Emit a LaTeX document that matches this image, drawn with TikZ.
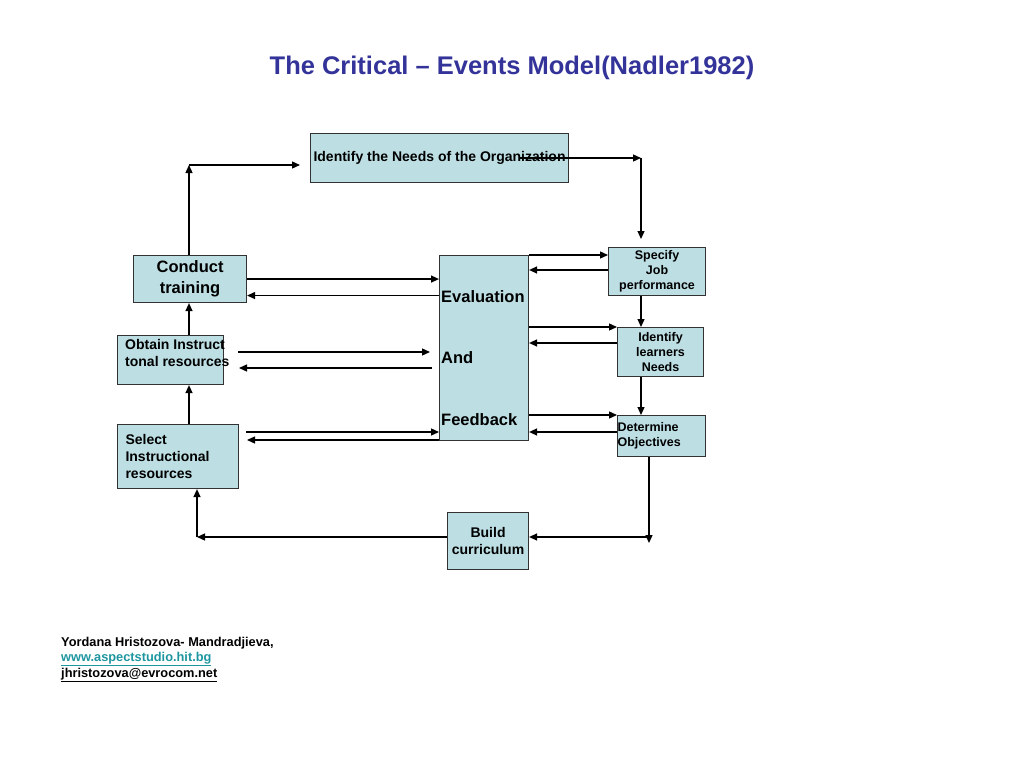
\documentclass[tikz,border=0pt]{standalone}
\usepackage{fontspec}
\setmainfont{Liberation Sans}
\usetikzlibrary{arrows.meta}
\definecolor{boxfill}{RGB}{189,223,228}
\definecolor{boxline}{RGB}{50,50,50}
\definecolor{titleblue}{RGB}{51,51,153}
\definecolor{linkteal}{RGB}{30,150,160}

\begin{document}
\begin{tikzpicture}[x=1pt,y=-1pt,
                box/.style={draw=boxline,fill=boxfill,line width=1.1pt,inner sep=0pt,anchor=north west,font=\bfseries},
                arr/.style={-{Triangle[length=8pt,width=7pt]},line width=1.3pt},
                big/.style={font=\bfseries\fontsize{16.5}{21}\selectfont},
                mid/.style={font=\bfseries\fontsize{14}{17}\selectfont},
                small/.style={font=\bfseries\fontsize{12.5}{15}\selectfont}]
                \useasboundingbox (0,0) rectangle (1024,768);
                \node[font=\bfseries\fontsize{25.5}{30}\selectfont,text=titleblue] (title) at (512,68) {The Critical – Events Model(Nadler1982)};
                \node[box,mid,minimum width=258,minimum height=49] (org) at (310,133) {Identify the Needs of the Organization};
                \node[box,big,minimum width=113,minimum height=47,align=center] (cond) at (133,255) {Conduct\\training};
                \node[box,minimum width=106,minimum height=49] (obt) at (117,335) {};
                \node[mid,anchor=west,align=left,inner sep=0pt] (obttxt) at (125,353) {Obtain Instruct\\tonal resources};
                \node[box,mid,text width=105,inner xsep=8pt,minimum height=64,align=left] (sel) at (117,424) {Select\\Instructional\\resources};
                \node[box,minimum width=89,minimum height=185] (eval) at (439,255) {};
                \node[font=\bfseries\fontsize{16.5}{61.5}\selectfont,anchor=west,align=left,inner sep=0pt] (evaltxt) at (441,358) {Evaluation\\And\\Feedback};
                \node[box,small,minimum width=97,minimum height=48,align=center] (spec) at (608,247) {Specify\\Job\\performance};
                \node[box,small,minimum width=86,minimum height=49,align=center] (idl) at (617,327) {Identify\\learners\\Needs};
                \node[box,small,text width=88,minimum height=41,align=left] (det) at (617,415) {Determine\\Objectives};
                \node[box,mid,minimum width=81,minimum height=57,align=center] (build) at (447,512) {Build\\curriculum};
                \coordinate (up) at (189,165);
                \coordinate (upend) at (300,165);
                \coordinate (orgout) at (520,158);
                \coordinate (corner) at (641,158);
                \coordinate (specin) at (641,239);
                \coordinate (detdown) at (649,543);
                \coordinate (bottom) at (649,537);
                \coordinate (selin) at (197,537);
                \coordinate (obtout) at (238,352);
                \coordinate (obtend) at (430,352);
                \coordinate (obtback) at (432,368);
                \coordinate (obtbackend) at (239,368);
                \coordinate (selout) at (246,432);
                \coordinate (selback) at (247,440);
                \coordinate (condback) at ([yshift=-16.5pt]cond.east);
                \coordinate (specback) at ([yshift=-23pt]spec.north west);
                \coordinate (idlback) at ([yshift=-16pt]idl.north west);
                \coordinate (detback) at ([yshift=-17pt]det.north west);
                \draw[arr] (cond.north -| up) -- (up);
                \draw[arr] (up) -- (upend);
                \draw[arr] (orgout) -- (corner);
                \draw[arr] (corner) -- (specin);
                \draw[arr] (cond.east) -- (cond.east -| eval.west);
                \draw[arr] (condback -| eval.west) -- (condback);
                \draw[arr] (obtout) -- (obtend);
                \draw[arr] (obtback) -- (obtbackend);
                \draw[arr] (selout) -- (selout -| eval.west);
                \draw[arr] (selback -| eval.west) -- (selback);
                \draw[arr] (eval.north east) -- (eval.north east -| spec.west);
                \draw[arr] (specback) -- (specback -| eval.east);
                \draw[arr] (idl.north west -| eval.east) -- (idl.north west);
                \draw[arr] (idlback) -- (idlback -| eval.east);
                \draw[arr] (det.north west -| eval.east) -- (det.north west);
                \draw[arr] (detback) -- (detback -| eval.east);
                \draw[arr] (spec.south -| corner) -- (idl.north -| corner);
                \draw[arr] (idl.south -| corner) -- (det.north -| corner);
                \draw[arr] (det.south -| detdown) -- (detdown);
                \draw[arr] (bottom) -- (bottom -| build.east);
                \draw[arr] (bottom -| build.west) -- (selin);
                \draw[arr] (selin) -- (selin |- sel.south);
                \draw[arr] (sel.north -| up) -- (obt.south -| up);
                \draw[arr] (obt.north -| up) -- (cond.south -| up);
                \node[small,anchor=west,inner sep=0pt,font=\bfseries\fontsize{12.8}{15}\selectfont] (author) at (61,643) {Yordana Hristozova- Mandradjieva,};
                \node[small,anchor=west,inner sep=0pt,font=\bfseries\fontsize{12.8}{15}\selectfont,text=linkteal] (web) at (61,659) {\underline{www.aspectstudio.hit.bg}};
                \node[small,anchor=west,inner sep=0pt,font=\bfseries\fontsize{12.8}{15}\selectfont] (mail) at (61,675) {\underline{jhristozova@evrocom.net}};
            \end{tikzpicture}
\end{document}
